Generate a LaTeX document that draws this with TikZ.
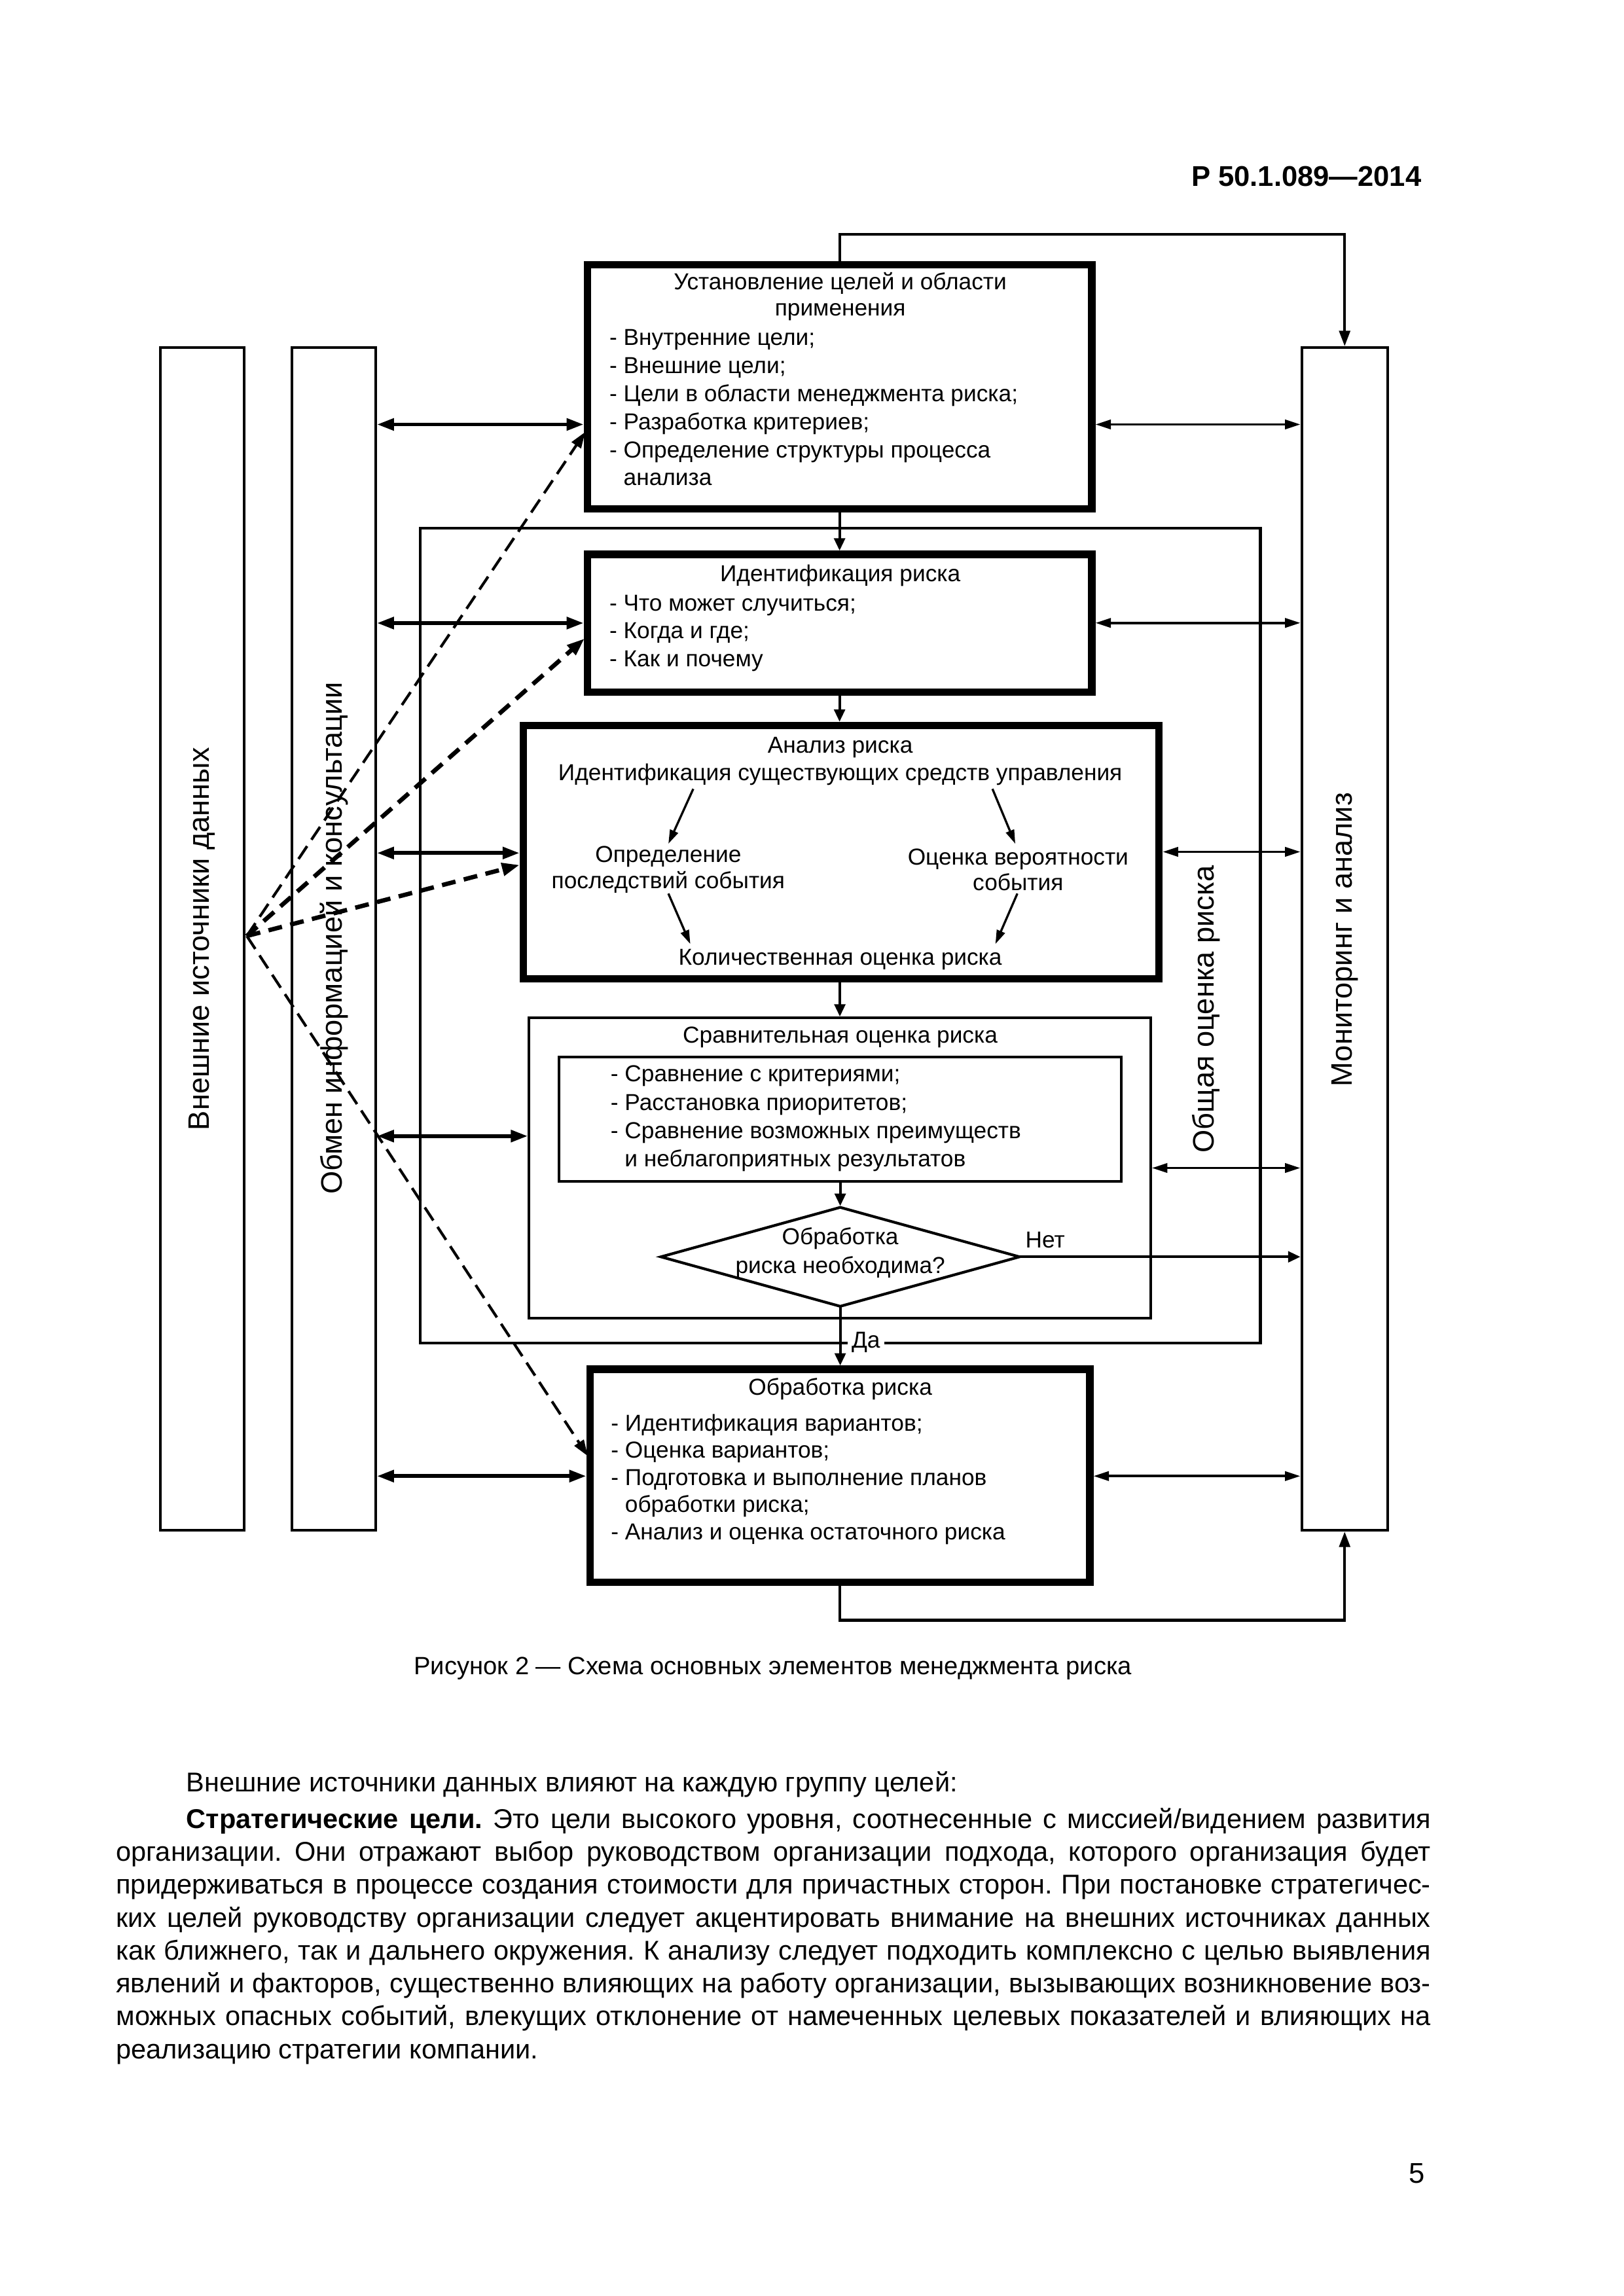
\documentclass[tikz,border=0pt]{standalone}
\usepackage{fontspec}
\setmainfont{Liberation Sans}
\usetikzlibrary{arrows.meta,shapes.geometric}
\begin{document}
\def\pxu{0.18936mm}
\frenchspacing
\newcommand{\bodysetup}{\fontsize{10}{12.12}\selectfont\frenchspacing\spaceskip 0.278em plus 0.5em minus 0.12em\relax}
\begin{tikzpicture}[x=0.18936mm,y=-0.18936mm,
  thickbox/.style={draw,line width=2.7pt,inner sep=0,outer sep=0},
  thinbox/.style={draw,line width=1pt,inner sep=0,outer sep=0},
  boxtxt/.style={font=\fontsize{8.5}{10.3}\selectfont,inner sep=0},
  sidelbl/.style={font=\fontsize{10.9}{13}\selectfont,inner sep=0,rotate=90},
  flow/.style={line width=1pt,-{Triangle[length=1.6mm,width=1.4mm]}},
  fbloop/.style={line width=1pt,-{Triangle[length=2mm,width=1.4mm]}},
  dblL/.style={line width=1.4pt,{Triangle[length=2.2mm,width=1.5mm]}-{Triangle[length=2.2mm,width=1.5mm]}},
  dblR/.style={line width=0.9pt,{Triangle[length=2mm,width=1.2mm]}-{Triangle[length=2mm,width=1.2mm]}},
  dashthin/.style={line width=1pt,dash pattern=on 2mm off 1mm,-{Triangle[length=2.1mm,width=1.4mm]}},
  dashthick/.style={line width=1.6pt,dash pattern=on 1.8mm off 1.1mm,-{Triangle[length=2.3mm,width=1.6mm]}},
  inarr/.style={line width=0.8pt,-{Triangle[length=1.8mm,width=1.1mm]}},
  bodyfont/.style={font=\bodysetup}
]
\fill[white] (0,0) rectangle (1109,1568.7);
\useasboundingbox (0,0) rectangle (1109,1568.7);

% header
\node[font=\bfseries\fontsize{10.5}{12}\selectfont,anchor=east,inner sep=0] (hdr) at (971.4,120.5) {Р 50.1.089—2014};

% side columns
\node[thinbox,minimum width={57.3*\pxu},minimum height={808*\pxu}] (ext) at (138.15,641.5) {};
\node[sidelbl] (extl) at (138.15,641.5) {Внешние источники данных};
\node[thinbox,minimum width={57*\pxu},minimum height={808*\pxu}] (obm) at (228.1,641.5) {};
\node[sidelbl] (obml) at (228.1,641) {Обмен информацией и консультации};
\node[thinbox,minimum width={58.6*\pxu},minimum height={808*\pxu}] (mon) at (918.6,641.5) {};
\node[sidelbl] (monl) at (918.6,642) {Мониторинг и анализ};

% frame
\node[thinbox,minimum width={573.8*\pxu},minimum height={556.7*\pxu}] (frm) at (574.1,639.15) {};
\node[sidelbl] (frml) at (824,689.5) {Общая оценка риска};

% boxes
\node[thickbox,minimum width={344.6*\pxu},minimum height={167.1*\pxu}] (b1) at (573.55,264.3) {};
\node[thickbox,minimum width={344.6*\pxu},minimum height={94*\pxu}] (b2) at (573.55,425.75) {};
\node[thickbox,minimum width={434.3*\pxu},minimum height={173*\pxu}] (b3) at (574.6,582.15) {};
\node[thinbox,minimum width={424.5*\pxu},minimum height={205*\pxu}] (b4) at (573.75,798) {};
\node[thinbox,minimum width={384*\pxu},minimum height={85*\pxu}] (inner) at (574,764.5) {};
\node[thinbox,diamond,minimum width={245*\pxu},minimum height={67.6*\pxu}] (dec) at (574,858.7) {};
\node[thickbox,minimum width={341.5*\pxu},minimum height={145.5*\pxu}] (b5) at (573.75,1008.25) {};

% texts box 1
\node[boxtxt,align=center,font=\fontsize{8.5}{9.6}\selectfont] (t1) at (574,202.6) {Установление целей и области\\применения};
\node[boxtxt,align=left,anchor=west,font=\fontsize{8.5}{10.33}\selectfont] (i1) at (416,278.5) {- Внутренние цели;\\- Внешние цели;\\- Цели в области менеджмента риска;\\- Разработка критериев;\\- Определение структуры процесса\\\phantom{- }анализа};
% box 2
\node[boxtxt] (t2) at (574,393.3) {Идентификация риска};
\node[boxtxt,align=left,anchor=west,font=\fontsize{8.5}{10.2}\selectfont] (i2) at (416,432.6) {- Что может случиться;\\- Когда и где;\\- Как и почему};
% box 3
\node[boxtxt,align=center,font=\fontsize{8.5}{10.2}\selectfont] (t3) at (574,520) {Анализ риска\\Идентификация существующих средств управления};
\node[boxtxt,align=center,font=\fontsize{8.5}{9.5}\selectfont] (opr) at (456.5,594.2) {Определение\\последствий события};
\node[boxtxt,align=center,font=\fontsize{8.5}{9.5}\selectfont] (ocv) at (695.5,594.2) {Оценка вероятности\\события};
\node[boxtxt] (kol) at (574,655.6) {Количественная оценка риска};
\coordinate (a1s) at (473.6,539);
\coordinate (a1e) at (456.6,576.5);
\coordinate (a2s) at (678,539);
\coordinate (a2e) at (693.6,576.5);
\coordinate (a3s) at (456.6,610.5);
\coordinate (a3e) at (471.6,645);
\coordinate (a4s) at (695,610.5);
\coordinate (a4e) at (680,645);
\draw[inarr] (a1s) -- (a1e);
\draw[inarr] (a2s) -- (a2e);
\draw[inarr] (a3s) -- (a3e);
\draw[inarr] (a4s) -- (a4e);
% box 4
\node[boxtxt] (t4) at (574,708.8) {Сравнительная оценка риска};
\node[boxtxt,align=left,anchor=west,font=\fontsize{8.5}{10.45}\selectfont] (i4) at (416.8,764.3) {- Сравнение с критериями;\\- Расстановка приоритетов;\\- Сравнение возможных преимуществ\\\phantom{- }и неблагоприятных результатов};
\node[boxtxt,align=center,font=\fontsize{8.5}{10.6}\selectfont] (dt) at (574,856) {Обработка\\риска необходима?};
% box 5
\node[boxtxt] (t5) at (574,948.8) {Обработка риска};
\node[boxtxt,align=left,anchor=west,font=\fontsize{8.5}{10}\selectfont] (i5) at (417,1010.65) {- Идентификация вариантов;\\- Оценка вариантов;\\- Подготовка и выполнение планов\\\phantom{- }обработки риска;\\- Анализ и оценка остаточного риска};

% vertical flow
\coordinate (topy) at (0,160);
\coordinate (boty) at (0,1107);
\draw[fbloop,shorten >=0.5pt] (b1.north) -- (b1.north |- topy) -| (mon.north);
\draw[fbloop,shorten >=0.5pt] (b5.south) -- (b5.south |- boty) -| (mon.south);
\draw[flow,shorten >=1.35pt] (b1.south) -- (b2.north);
\draw[flow,shorten >=1.35pt] (b2.south) -- (b2.south |- b3.north);
\draw[flow,shorten >=0.5pt] (b4.north |- b3.south) -- (b4.north);
\draw[flow,shorten >=0.5pt] (inner.south) -- (dec.north);
\draw[flow,shorten >=1.35pt] (dec.south) -- (dec.south |- b5.north);
\draw[flow,shorten >=0.5pt] (dec.east) -- (dec.east -| mon.west);
\node[boxtxt] (net) at (714,847) {Нет};
\node[boxtxt,fill=white,minimum width={25*\pxu}] (da) at (591.5,917) {Да};

% horizontal double arrows
\foreach \yy/\bx/\sh in {290/b1/1.35, 425.7/b2/1.35, 582.8/b3/1.35, 776.2/b4/0.5, 1008.5/b5/1.35}
  \draw[dblL,shorten <=0.5pt,shorten >=\sh pt] (obm.east |- 0,\yy) -- (\bx.west |- 0,\yy);
\foreach \yy/\bx/\sh in {290/b1/1.35, 425.6/b2/1.35, 582/b3/1.35, 798/b4/0.5, 1008.5/b5/1.35}
  \draw[dblR,shorten <=\sh pt,shorten >=0.5pt] (\bx.east |- 0,\yy) -- (mon.west |- 0,\yy);

% dashed influence arrows
\coordinate (src) at (168.6,639.5);
\draw[dashthin,shorten >=1.35pt] (src) -- (b1.west |- 0,293);
\draw[dashthick,shorten >=1.35pt] (src) -- (b2.west |- 0,434.6);
\draw[dashthick,shorten >=1.35pt] (src) -- (b3.west |- 0,590.3);
\draw[dashthin,shorten >=1.35pt] (src) -- (b5.west |- 0,997);

% caption
\node[font=\fontsize{9.2}{11}\selectfont,inner sep=0] (cap) at (528,1140) {Рисунок 2 — Схема основных элементов менеджмента риска};

% body text
\node[bodyfont,anchor=base west,inner sep=0] (p1) at (127,1224) {Внешние источники данных влияют на каждую группу целей:};
\node[bodyfont,anchor=base west,inner sep=0,text width=170.05mm,align=justify] (p2) at (79,1249) {\hspace*{9.09mm}\textbf{Стратегические цели.} Это цели высокого уровня, соотнесенные с миссией/видением развития\linebreak организации. Они отражают выбор руководством организации подхода, которого организация будет\linebreak придерживаться в процессе создания стоимости для причастных сторон. При постановке стратегичес-\linebreak ких целей руководству организации следует акцентировать внимание на внешних источниках данных\linebreak как ближнего, так и дальнего окружения. К анализу следует подходить комплексно с целью выявления\linebreak явлений и факторов, существенно влияющих на работу организации, вызывающих возникновение воз-\linebreak можных опасных событий, влекущих отклонение от намеченных целевых показателей и влияющих на\linebreak реализацию стратегии компании.};

\node[font=\fontsize{10.5}{12}\selectfont,inner sep=0] (pg) at (968,1485) {5};
\end{tikzpicture}
\end{document}
